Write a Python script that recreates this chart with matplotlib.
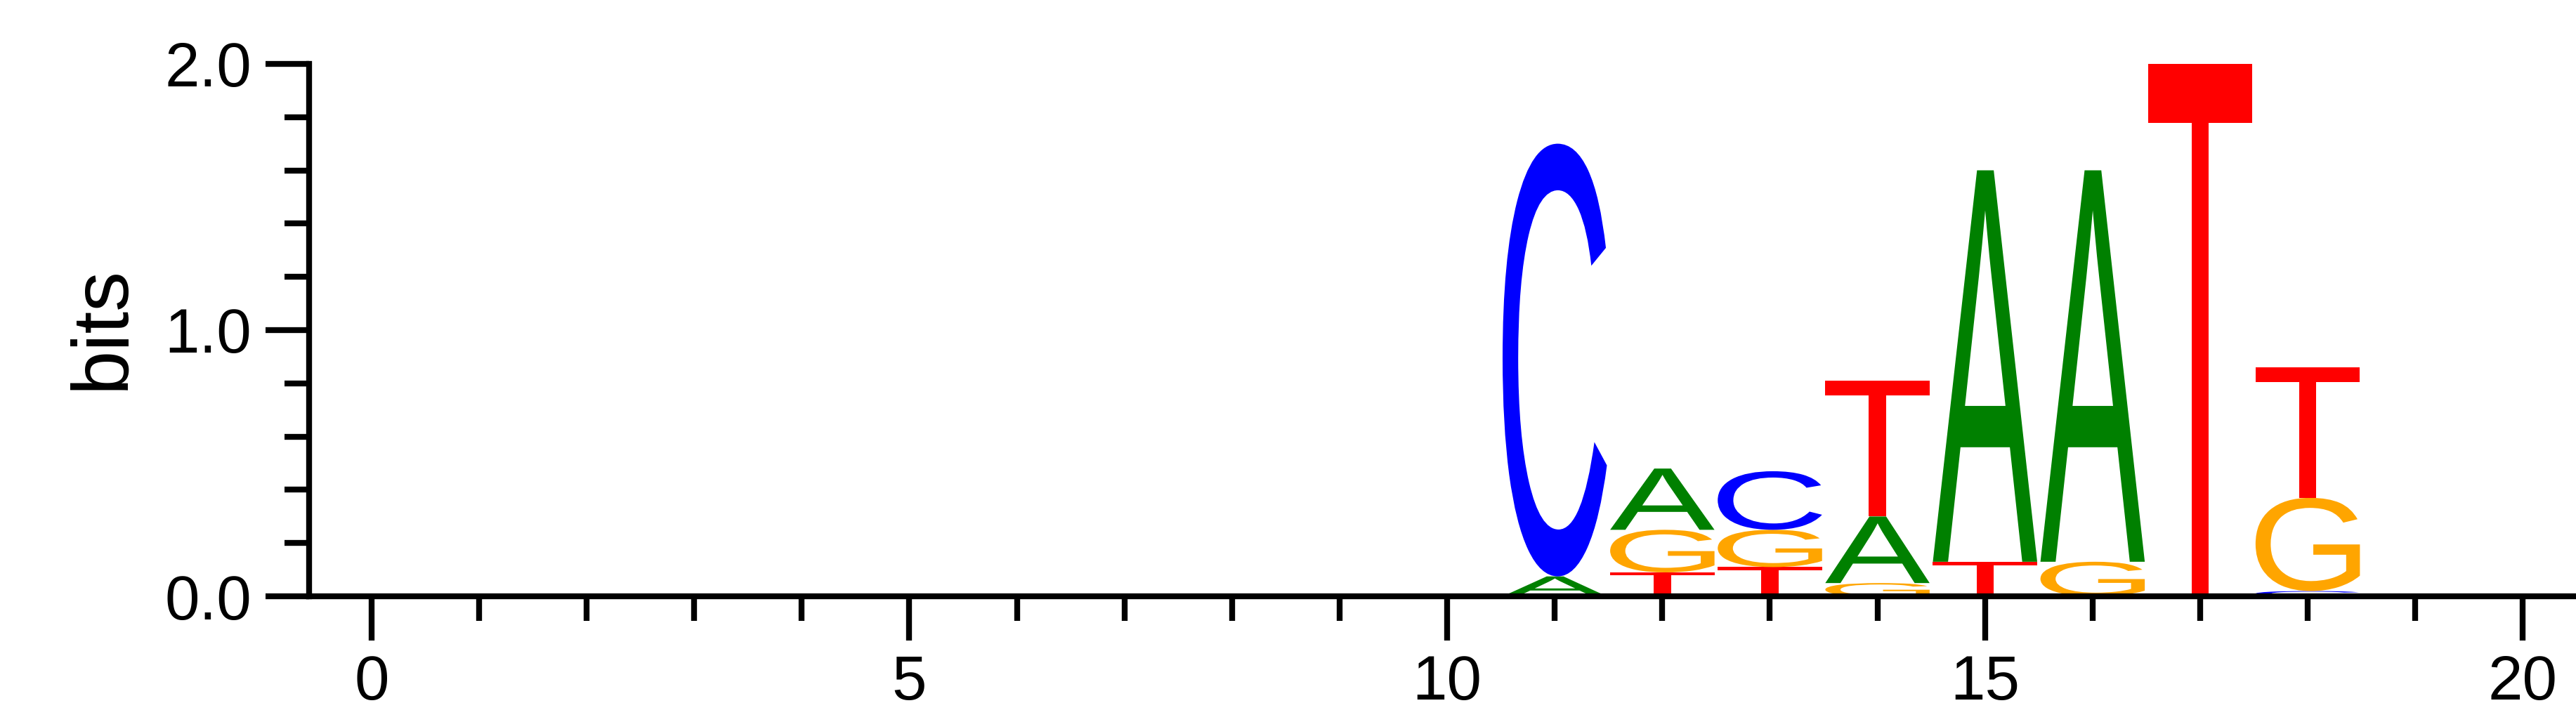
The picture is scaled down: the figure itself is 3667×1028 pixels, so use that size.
import matplotlib
matplotlib.use("Agg")
import matplotlib.pyplot as plt
from matplotlib.textpath import TextPath
from matplotlib.patches import PathPatch
from matplotlib.font_manager import FontProperties
from matplotlib.transforms import Affine2D
from matplotlib.ticker import MultipleLocator

positions = [11, 12, 13, 14, 15, 16, 17, 18]
# stacks bottom->top: (letter, height in bits)
stacks = [
    [("A", 0.075), ("C", 1.625)],
    [("T", 0.09), ("G", 0.16), ("A", 0.23)],
    [("T", 0.11), ("G", 0.14), ("C", 0.22)],
    [("G", 0.05), ("A", 0.25), ("T", 0.51)],
    [("T", 0.13), ("A", 1.47)],
    [("G", 0.13), ("A", 1.47)],
    [("T", 2.0)],
    [("C", 0.02), ("G", 0.35), ("T", 0.49)],
]
colors = {"A": "#008000", "C": "#0000FF", "G": "#FFA500", "T": "#FF0000"}

fig = plt.figure(figsize=(36.67, 10.28), dpi=100)
ax = fig.add_axes([0.12, 0.174, 0.879, 0.745])
fp = FontProperties(family="Liberation Sans", weight="normal")
width = 0.97
for x, stack in zip(positions, stacks):
    y = 0.0
    for letter, h in stack:
        tp = TextPath((0, 0), letter, size=1, prop=fp)
        ext = tp.get_extents()
        tr = (Affine2D().translate(-ext.x0, -ext.y0)
              .scale(width / ext.width, h / ext.height)
              .translate(x - width / 2, y))
        ax.add_patch(PathPatch(tr.transform_path(tp), fc=colors[letter], ec="none"))
        y += h

ax.set_xlim(-0.58, 20.47)
ax.set_ylim(0, 2.02)
for s in ["top", "right"]:
    ax.spines[s].set_visible(False)
ax.spines["left"].set_bounds(0, 2)
ax.spines["left"].set_linewidth(6)
ax.spines["bottom"].set_linewidth(6)
ax.xaxis.set_major_locator(MultipleLocator(5))
ax.xaxis.set_minor_locator(MultipleLocator(1))
ax.yaxis.set_major_locator(MultipleLocator(1))
ax.yaxis.set_minor_locator(MultipleLocator(0.2))
ax.set_yticks([0, 1, 2])
ax.set_yticklabels(["0.0", "1.0", "2.0"])
ax.tick_params(which="major", length=45, width=6, labelsize=64, pad=14)
ax.tick_params(which="minor", length=25, width=6)
for lab in ax.get_xticklabels() + ax.get_yticklabels():
    lab.set_family("Liberation Sans")
ax.set_ylabel("bits", fontsize=82, family="Liberation Sans", labelpad=25)
fig.savefig("out.png", dpi=100)
